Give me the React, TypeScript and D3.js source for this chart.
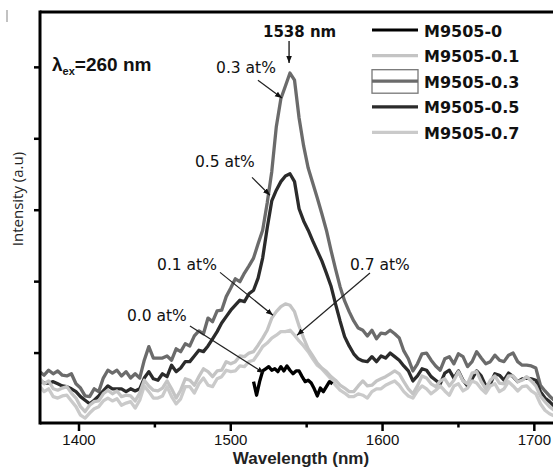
import React from "react";
import * as d3 from "d3";

// sampling grid (nm) shared by the long spectra
const wavelengths = [
  1374, 1377, 1380, 1383, 1386, 1389, 1392, 1395, 1398, 1401,
  1404, 1407, 1410, 1413, 1416, 1419, 1422, 1425, 1428, 1431,
  1434, 1437, 1440, 1443, 1446, 1449, 1452, 1455, 1458, 1461,
  1464, 1467, 1470, 1473, 1476, 1479, 1482, 1485, 1488, 1491,
  1494, 1497, 1500, 1503, 1506, 1509, 1512, 1515, 1518, 1521,
  1524, 1527, 1530, 1533, 1536, 1539, 1542, 1545, 1548, 1551,
  1554, 1557, 1560, 1563, 1566, 1569, 1572, 1575, 1578, 1581,
  1584, 1587, 1590, 1593, 1596, 1599, 1602, 1605, 1608, 1611,
  1614, 1617, 1620, 1623, 1626, 1629, 1632, 1635, 1638, 1641,
  1644, 1647, 1650, 1653, 1656, 1659, 1662, 1665, 1668, 1671,
  1674, 1677, 1680, 1683, 1686, 1689, 1692, 1695, 1698, 1701,
  1704, 1707, 1710, 1713,
];

const m0Wavelengths = [
  1515, 1517, 1519, 1521, 1523, 1525, 1527, 1529, 1531, 1533,
  1535, 1537, 1539, 1541, 1543, 1545, 1547, 1549, 1551, 1553,
  1555, 1557, 1559, 1561, 1563, 1565, 1567,
];
const m0 = [
  60, 41, 60, 75, 78, 81, 76, 78, 74, 81,
  75, 82, 76, 71, 75, 75, 67, 60, 62, 58,
  50, 40, 51, 46, 53, 60, 57,
];

const m01 = [
  65, 57, 61, 50, 48, 51, 53, 44, 37, 25,
  18, 27, 32, 33, 43, 48, 43, 47, 39, 41,
  40, 33, 44, 62, 54, 48, 47, 51, 61, 50,
  37, 48, 64, 62, 55, 67, 78, 74, 67, 75,
  76, 88, 85, 88, 96, 95, 100, 102, 111, 121,
  132, 149, 158, 165, 169, 167, 158, 138, 121, 106,
  96, 86, 79, 74, 67, 62, 55, 51, 46, 46,
  54, 61, 54, 55, 61, 64, 67, 71, 75, 71,
  60, 50, 43, 54, 68, 65, 57, 53, 61, 64,
  54, 62, 74, 61, 57, 72, 74, 60, 50, 62,
  68, 58, 57, 68, 68, 60, 62, 67, 61, 54,
  40, 32, 25, 20,
];

const m03 = [
  74, 69, 76, 71, 75, 69, 68, 71, 57, 51,
  40, 39, 50, 46, 65, 76, 72, 76, 68, 74,
  65, 71, 65, 90, 109, 93, 93, 93, 96, 90,
  106, 102, 113, 110, 124, 131, 127, 149, 144, 159,
  160, 179, 191, 204, 200, 212, 222, 233, 253, 272,
  310, 354, 417, 456, 474, 492, 482, 429, 390, 359,
  338, 317, 295, 272, 244, 218, 193, 173, 158, 145,
  135, 132, 124, 132, 120, 128, 127, 132, 127, 121,
  103, 92, 75, 85, 99, 100, 90, 82, 76, 92,
  95, 85, 99, 95, 81, 88, 102, 93, 85, 88,
  97, 90, 88, 97, 100, 88, 83, 83, 82, 79,
  55, 47, 40, 34,
];

const m05 = [
  62, 58, 58, 60, 57, 54, 53, 50, 46, 39,
  34, 29, 34, 40, 47, 54, 50, 50, 50, 46,
  50, 47, 50, 65, 74, 64, 62, 71, 67, 83,
  74, 79, 88, 88, 96, 104, 102, 110, 120, 130,
  142, 151, 160, 167, 174, 172, 183, 188, 205, 233,
  275, 313, 328, 340, 348, 351, 340, 302, 285, 272,
  257, 243, 229, 212, 194, 169, 145, 123, 110, 99,
  92, 89, 88, 95, 88, 96, 93, 100, 95, 90,
  82, 75, 61, 68, 78, 76, 67, 62, 57, 72,
  76, 65, 75, 62, 54, 64, 75, 68, 54, 57,
  71, 69, 62, 72, 67, 60, 64, 65, 64, 62,
  46, 37, 32, 26,
];

const m07 = [
  54, 46, 50, 39, 37, 40, 41, 33, 25, 13,
  9, 16, 22, 25, 33, 37, 33, 36, 27, 30,
  32, 23, 34, 54, 46, 37, 37, 40, 53, 39,
  29, 36, 53, 53, 44, 57, 65, 55, 53, 64,
  67, 76, 74, 75, 82, 81, 88, 90, 99, 109,
  114, 121, 125, 130, 130, 132, 125, 117, 110, 102,
  92, 83, 78, 71, 64, 55, 48, 44, 39, 39,
  43, 41, 37, 46, 50, 50, 55, 58, 61, 55,
  46, 40, 37, 47, 54, 50, 43, 48, 54, 47,
  41, 54, 57, 47, 51, 61, 58, 50, 44, 54,
  57, 46, 50, 60, 54, 47, 53, 54, 47, 43,
  29, 20, 15, 12,
];

const xMajorTicks = [1400, 1500, 1600, 1700];
const xMinorTicks = [1450, 1550, 1650];
const yTicks = [100, 200, 300, 400, 500];

const legendNames = ["M9505-0", "M9505-0.1", "M9505-0.3", "M9505-0.5", "M9505-0.7"];
const legendColors = ["#000000", "#c4c4c4", "#6b6b6b", "#2b2b2b", "#cacaca"];

// annotation text + arrow (from -> tip) in data units
const notes = [
  { text: "0.3 at%", at: [1490.3, 492], from: [1517.9, 482], to: [1533.7, 457] },
  { text: "0.5 at%", at: [1476.4, 360], from: [1514, 346], to: [1525.8, 321] },
  { text: "0.1 at%", at: [1451.4, 216], from: [1492.9, 213], to: [1527.8, 153] },
  { text: "0.0 at%", at: [1431.6, 145], from: [1473.1, 138], to: [1521.9, 72] },
  { text: "0.7 at%", at: [1578.5, 216], from: [1591.7, 212], to: [1543.6, 125] },
];

export default function App() {
  const width = 553;
  const height = 468;
  const left = 40, right = 553, top = 12, bottom = 423;

  const x = d3.scaleLinear().domain([1374.3, 1712.3]).range([left, right]);
  const y = d3.scaleLinear().domain([2.1, 577.5]).range([bottom, top]);

  const line = d3.line<[number, number]>()
    .x(d => x(d[0]))
    .y(d => y(d[1]));

  const zip = (xs: number[], ys: number[]) => xs.map((w, i) => [w, ys[i]] as [number, number]);

  // drawing order: darker grey first, light greys over them, black on top
  const series = [
    { key: "0.3", color: legendColors[2], pts: zip(wavelengths, m03) },
    { key: "0.5", color: legendColors[3], pts: zip(wavelengths, m05) },
    { key: "0.7", color: legendColors[4], pts: zip(wavelengths, m07) },
    { key: "0.1", color: legendColors[1], pts: zip(wavelengths, m01) },
    { key: "0", color: legendColors[0], pts: zip(m0Wavelengths, m0) },
  ];

  const annFont = "'DejaVu Sans', sans-serif";
  const axisFont = "'Liberation Sans', Arial, sans-serif";
  const peakX = x(1538.4);

  return (
    <svg width={width} height={height} style={{ position: "absolute", left: 0, top: 0, background: "#fff" }}>
      <defs>
        <clipPath id="plot">
          <rect x={left} y={top} width={right - left} height={bottom - top} />
        </clipPath>
        <marker id="arr" viewBox="0 0 10 10" refX="10" refY="5" markerWidth="7" markerHeight="7" orient="auto" markerUnits="userSpaceOnUse">
          <path d="M0,1 L10,5 L0,9 Z" fill="#111" />
        </marker>
      </defs>

      <line x1={7} x2={7} y1={10} y2={22} stroke="#999" strokeWidth={1.2} />

      <g clipPath="url(#plot)">
        {series.map(s => (
          <path key={s.key} d={line(s.pts) ?? ""} fill="none" stroke={s.color}
            strokeWidth={3.3} strokeLinejoin="round" />
        ))}
      </g>

      {/* frame */}
      <line x1={left} x2={right} y1={top} y2={top} stroke="#000" strokeWidth={3} />
      <line x1={left} x2={right} y1={bottom} y2={bottom} stroke="#000" strokeWidth={3} />
      <line x1={left} x2={left} y1={top - 1.5} y2={bottom + 1.5} stroke="#000" strokeWidth={3} />

      {/* x ticks */}
      {xMajorTicks.map(t => (
        <g key={t}>
          <line x1={x(t)} x2={x(t)} y1={bottom} y2={bottom + 8} stroke="#000" strokeWidth={2.5} />
          <text x={x(t)} y={444.5} textAnchor="middle" fontFamily={axisFont} fontSize={15} fill="#111">{t}</text>
        </g>
      ))}
      {xMinorTicks.map(t => (
        <line key={t} x1={x(t)} x2={x(t)} y1={bottom} y2={bottom + 4.5} stroke="#000" strokeWidth={2.5} />
      ))}
      <text x={301} y={463.5} textAnchor="middle" fontFamily={axisFont} fontWeight="bold" fontSize={17} fill="#222">Wavelength (nm)</text>

      {/* y ticks */}
      {yTicks.map(t => (
        <line key={t} x1={left - 6} x2={left} y1={y(t)} y2={y(t)} stroke="#000" strokeWidth={2.5} />
      ))}
      <text transform="translate(23,199) rotate(-90)" textAnchor="middle" fontFamily="'Open Sans', sans-serif" fontSize={15} fill="#222">Intensity (a.u)</text>

      {/* excitation label */}
      <text x={x(1382.2)} y={y(495)} fontFamily="'Liberation Sans Narrow', 'Arial Narrow', 'Liberation Sans', sans-serif" fontWeight="bold" fontSize={19} fill="#111">
        λ<tspan fontSize={11} dy={4}>ex</tspan><tspan dy={-4}>=260 nm</tspan>
      </text>

      {/* peak label */}
      <text x={x(1521.2)} y={37} fontFamily={annFont} fontWeight="bold" fontSize={15} fill="#111">1538 nm</text>
      <line x1={peakX} x2={peakX} y1={41} y2={63} stroke="#111" strokeWidth={1.3} markerEnd="url(#arr)" />

      {/* concentration annotations */}
      {notes.map(n => (
        <g key={n.text}>
          <text x={x(n.at[0])} y={y(n.at[1])} fontFamily={annFont} fontSize={15.5} fill="#111">{n.text}</text>
          <line x1={x(n.from[0])} y1={y(n.from[1])} x2={x(n.to[0])} y2={y(n.to[1])}
            stroke="#222" strokeWidth={1.2} markerEnd="url(#arr)" />
        </g>
      ))}

      {/* legend */}
      {legendNames.map((name, i) => {
        const ly = 30 + i * 25.6;
        return (
          <g key={name}>
            {i === 2 && (
              <rect x={372} y={ly - 11.5} width={46} height={23.5} fill="none" stroke="#777" strokeWidth={1.3} />
            )}
            <line x1={372} x2={418} y1={ly} y2={ly} stroke={legendColors[i]} strokeWidth={3.2} />
            <text x={424} y={ly + 6.5} fontFamily="'DejaVu Sans', sans-serif" fontWeight="bold" fontSize={16} fill="#111">{name}</text>
          </g>
        );
      })}
    </svg>
  );
}
